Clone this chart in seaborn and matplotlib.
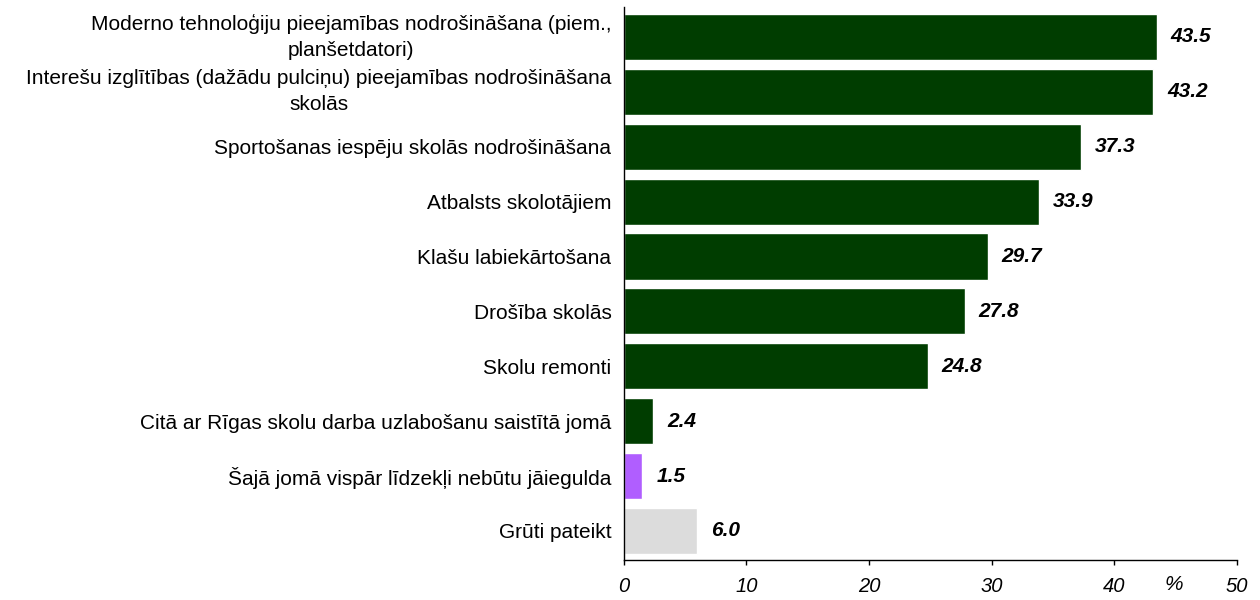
import numpy as np
import pandas as pd
import matplotlib
matplotlib.use('Agg')
import matplotlib.pyplot as plt
import matplotlib.transforms as mtransforms
import seaborn as sns

# ── DATA ──────────────────────────────────────────────
categories = [
    'Moderno tehnoloģiju pieejamības nodrošināšana (piem.,\nplanšetdatori)',
    'Interešu izglītības (dažādu pulciņu) pieejamības nodrošināšana\nskolās',
    'Sportošanas iespēju skolās nodrošināšana',
    'Atbalsts skolotājiem',
    'Klašu labiekārtošana',
    'Drošība skolās',
    'Skolu remonti',
    'Citā ar Rīgas skolu darba uzlabošanu saistītā jomā',
    'Šajā jomā vispār līdzekļi nebūtu jāiegulda',
    'Grūti pateikt',
]
values = [43.5, 43.2, 37.3, 33.9, 29.7, 27.8, 24.8, 2.4, 1.5, 6.0]
bar_colors = ['#003D00'] * 8 + ['#B05EFF', '#DCDCDC']
x_ticks = [0, 10, 20, 30, 40, 50]

df = pd.DataFrame({'label': categories, 'value': values})

# ── PLOT ──────────────────────────────────────────────
sns.set_style('white')
plt.rcParams['font.family'] = ['Liberation Sans', 'DejaVu Sans']
plt.rcParams['text.color'] = 'black'
plt.rcParams['xtick.color'] = 'black'
plt.rcParams['ytick.color'] = 'black'

fig = plt.figure(figsize=(12.6, 6), dpi=100)
ax = fig.add_axes([0.4952, 0.0667, 0.4862, 0.922])

sns.barplot(data=df, x='value', y='label', hue='label', palette=bar_colors,
            legend=False, width=0.84, saturation=1, ax=ax)

ax.set_xlim(0, 50)
ax.set_ylim(9.528, -0.549)
ax.set_xticks(x_ticks)
ax.set_xticklabels([str(t) for t in x_ticks], fontstyle='italic', fontsize=14.5)
ax.set_xlabel('')
ax.set_ylabel('')

ax.tick_params(axis='x', bottom=True, direction='out', length=3.6, width=1,
               color='black', labelcolor='black', pad=9)
ax.tick_params(axis='y', left=False, length=0, pad=9, labelsize=15,
               labelcolor='black')
shift_up = mtransforms.ScaledTranslation(0, 4 / 72, fig.dpi_scale_trans)
for lbl in ax.get_yticklabels():
    lbl.set_multialignment('center')
    lbl.set_linespacing(1.45)
    if '\n' in lbl.get_text():
        lbl.set_transform(lbl.get_transform() + shift_up)

for s in ['top', 'right']:
    ax.spines[s].set_visible(False)
for s in ['left', 'bottom']:
    ax.spines[s].set_color('black')
    ax.spines[s].set_linewidth(1)

# value labels
for i, v in enumerate(values):
    ax.annotate(f'{v:.1f}', xy=(v, i), xytext=(10, 0), textcoords='offset points',
                ha='left', va='center', fontsize=15, fontweight='bold',
                fontstyle='italic', color='black')

# percent sign next to the axis
trans = mtransforms.blended_transform_factory(ax.transData, ax.transAxes)
ax.annotate('%', xy=(44.9, 0), xycoords=trans, xytext=(0, -18),
            textcoords='offset points', ha='center', va='center',
            fontsize=15, fontstyle='italic', color='black')

plt.savefig('out.png', dpi=100)
